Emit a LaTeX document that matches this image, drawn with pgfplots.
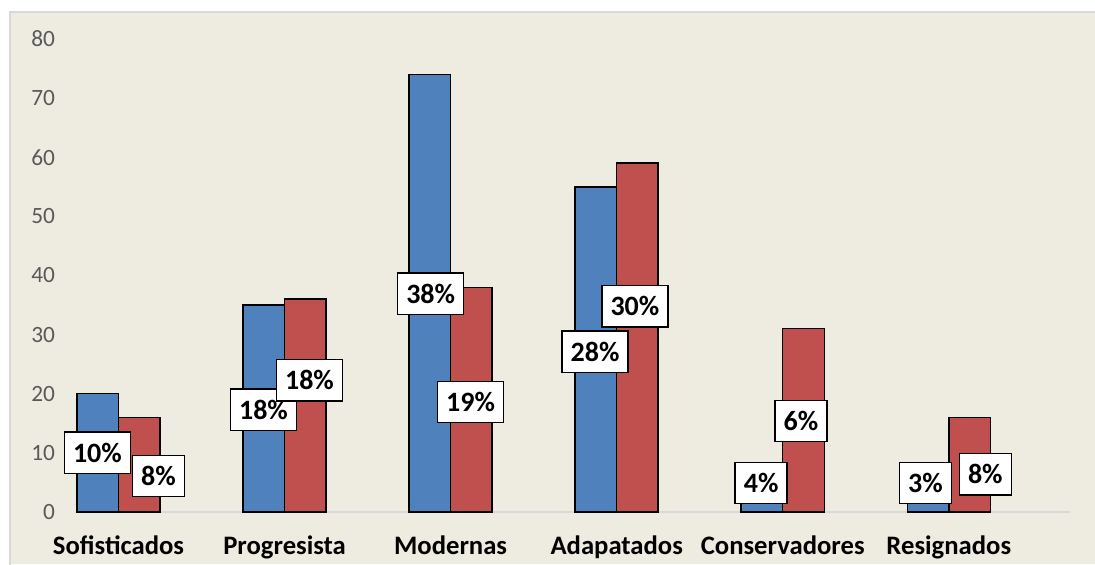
\documentclass[border=0pt]{standalone}
\usepackage{pgfplots}
\pgfplotsset{compat=1.18}
\usepackage{fontspec}
\setmainfont{Carlito}
\definecolor{bgc}{HTML}{EEECE1}
\definecolor{bordc}{HTML}{D9D9D9}
\definecolor{blueb}{HTML}{4F81BD}
\definecolor{redb}{HTML}{C0504D}
\definecolor{tickc}{HTML}{595959}
\definecolor{axc}{HTML}{D9D9D9}
\tikzset{lbl/.style={fill=white, draw=black, line width=1.1pt, font=\bfseries\fontsize{21}{21}\selectfont, inner xsep=6.5pt, inner ysep=0pt, minimum height=31pt}}
\begin{document}
\begin{tikzpicture}
\fill[bgc] (-50.25pt,-39pt) rectangle (763.5pt,375pt);
\draw[bordc, line width=1pt] (-50.25pt,-45pt) -- (-50.25pt,375pt) -- (770pt,375pt);
\begin{axis}[
  at={(0pt,0pt)}, anchor=south west,
  scale only axis, width=744.75pt, height=354.75pt,
  ybar=0pt, bar width=0.25,
  xmin=-0.25, xmax=5.73, ymin=0, ymax=80,
  xtick={0,1,2,3,4,5},
  xticklabels={Sofisticados,Progresista,Modernas,Adapatados,Conservadores,Resignados},
  ytick={0,10,...,80},
  axis x line*=bottom, axis y line*=left,
  x axis line style={draw=axc, line width=1.2pt, -},
  y axis line style={draw=none},
  major tick length=0pt,
  xticklabel style={font=\bfseries\fontsize{20}{20}\selectfont, text=black, yshift=-14pt},
  yticklabel style={font=\fontsize{17.5}{17.5}\selectfont, text=tickc, xshift=-13pt},
  /pgf/number format/assume math mode=true,
  clip=false,
  every axis plot/.append style={draw=black, line width=1.1pt},
]
\addplot[fill=blueb] coordinates {(0,20) (1,35) (2,74) (3,55) (4,8) (5,6)};
\addplot[fill=redb] coordinates {(0,16) (1,36) (2,38) (3,59) (4,31) (5,16)};
\node[lbl] at (axis cs:-0.127,10.0) {10\%};
\node[lbl] at (axis cs:0.241,6.1) {8\%};
\node[lbl] at (axis cs:0.873,17.3) {18\%};
\node[lbl] at (axis cs:1.15,22.3) {18\%};
\node[lbl] at (axis cs:1.88,36.9) {38\%};
\node[lbl] at (axis cs:2.12,18.6) {19\%};
\node[lbl] at (axis cs:2.87,27.1) {28\%};
\node[lbl] at (axis cs:3.11,34.8) {30\%};
\node[lbl] at (axis cs:3.87,4.9) {4\%};
\node[lbl] at (axis cs:4.11,15.4) {6\%};
\node[lbl] at (axis cs:4.86,4.9) {3\%};
\node[lbl] at (axis cs:5.22,6.4) {8\%};
\end{axis}
\pgfresetboundingbox
\useasboundingbox (-57.75pt,-39pt) rectangle (763.5pt,384pt);
\end{tikzpicture}
\end{document}
